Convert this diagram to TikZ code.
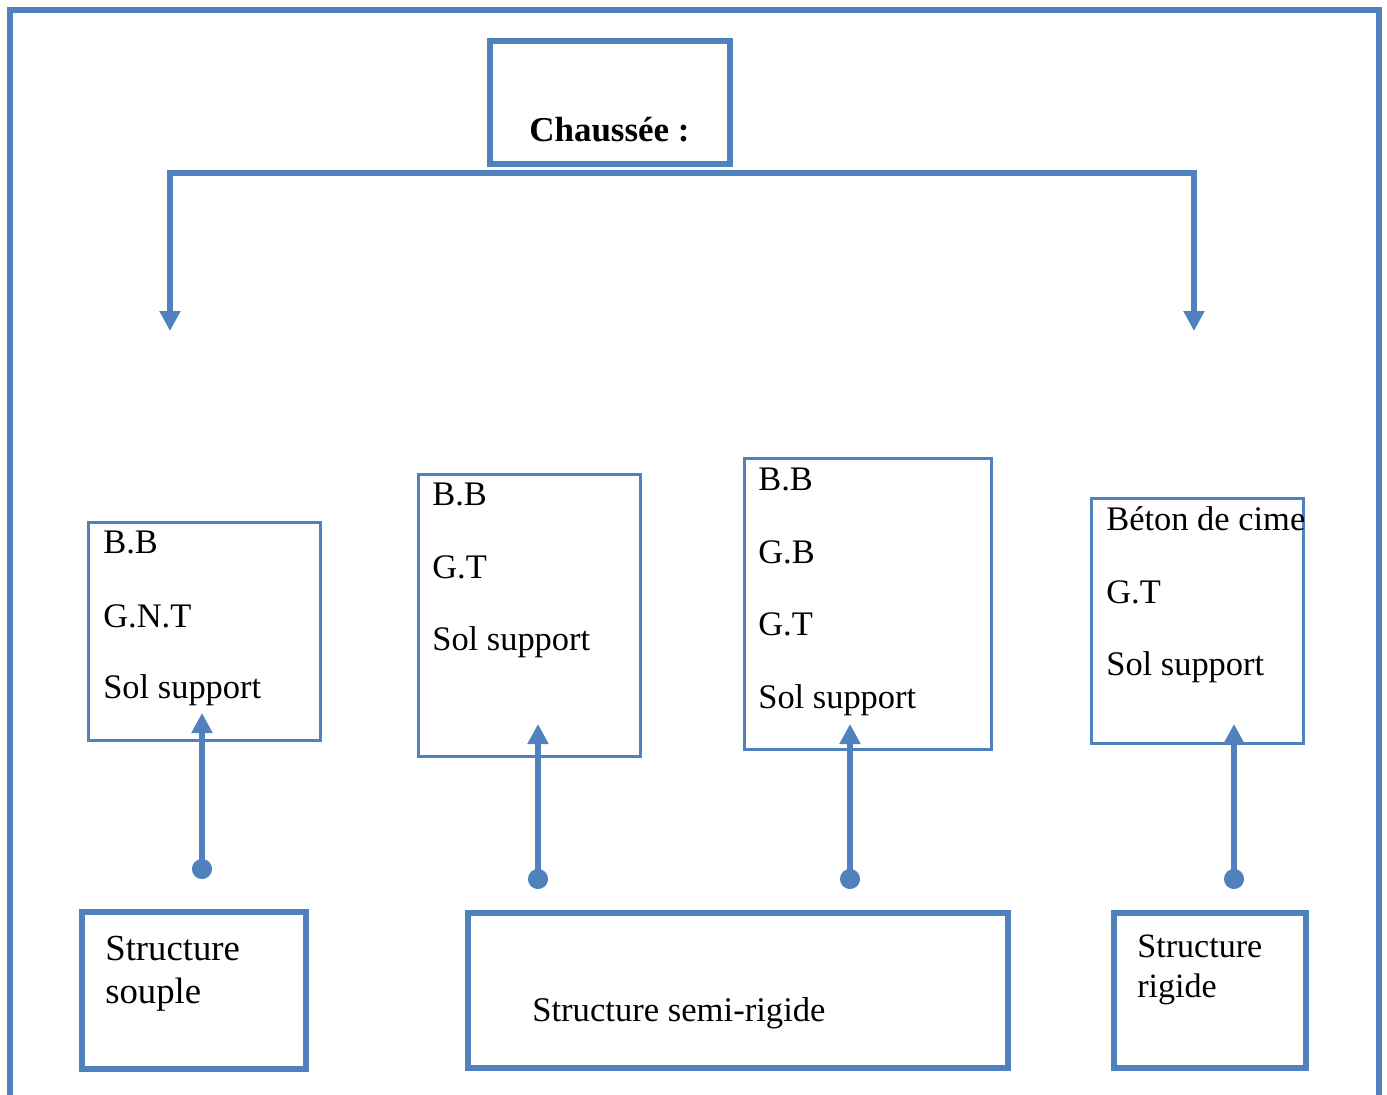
\documentclass[tikz,border=0pt]{standalone}
\usepackage{fontspec}
\setmainfont{Liberation Serif}
\usetikzlibrary{arrows.meta}

\definecolor{office}{RGB}{79,129,189}

\tikzset{
  heavy/.style={draw=office, line width=0.12cm},
  light/.style={draw=office, line width=0.06cm},
  box/.style={rectangle, inner sep=0pt},
  txt/.style={inner sep=0pt, anchor=base west, font=\fontsize{19.6pt}{23pt}\selectfont},
  down/.style={heavy, {Triangle[length=0.4cm, width=0.4cm]}-{Triangle[length=0.4cm, width=0.4cm]}},
  up/.style={heavy, {Circle[length=0.4cm]}-{Triangle[length=0.4cm, width=0.4cm]}}
}

\begin{document}
\begin{tikzpicture}[x=0.02cm, y=-0.02cm]
  \useasboundingbox (0,0) rectangle (1387,1095);
  % outer frame, open at the bottom
  \draw[heavy, line width=0.13cm] (10,1095) -- (10,10) -- (1379,10) -- (1379,1095);

  % title
  \node[box, heavy, minimum width=4.8cm, minimum height=2.46cm] (chaussee) at (610,102.5) {};
  \node[txt, font=\fontsize{19.9pt}{23pt}\selectfont\bfseries] (titre) at (529,142) {Chaussée :};

  % branches
  \coordinate (barL) at (170,173);
  \coordinate (barR) at (1194,173);
  \coordinate (tipL) at (170,331);
  \coordinate (tipR) at (1194,331);
  \draw[down] (tipL) -- (barL) -- (barR) -- (tipR);

  % layer boxes
  \node[box, light, minimum width=4.66cm, minimum height=4.38cm] (flex) at (204.5,631.5) {};
  \node[txt] (flexA) at (103,553) {B.B};
  \node[txt] (flexB) at (103,627) {G.N.T};
  \node[txt] (flexC) at (103,698) {Sol support};

  \node[box, light, minimum width=4.46cm, minimum height=5.66cm] (semiA) at (529.5,615.5) {};
  \node[txt] (semiAa) at (432,505) {B.B};
  \node[txt] (semiAb) at (432,578) {G.T};
  \node[txt] (semiAc) at (432,650) {Sol support};

  \node[box, light, minimum width=4.96cm, minimum height=5.84cm] (semiB) at (868,604) {};
  \node[txt] (semiBa) at (758,490) {B.B};
  \node[txt] (semiBb) at (758,563) {G.B};
  \node[txt] (semiBc) at (758,635) {G.T};
  \node[txt] (semiBd) at (758,708) {Sol support};

  \node[box, light, minimum width=4.26cm, minimum height=4.92cm] (rig) at (1197.5,621) {};
  \node[txt] (rigA) at (1106,530) {Béton de cime};
  \node[txt] (rigB) at (1106,603) {G.T};
  \node[txt] (rigC) at (1106,675) {Sol support};

  % structure types
  \node[box, heavy, minimum width=4.48cm, minimum height=3.14cm] (souple) at (194,990.5) {};
  \node[txt, font=\fontsize{20.9pt}{24pt}\selectfont] (soupleA) at (105,960) {Structure};
  \node[txt, font=\fontsize{20.9pt}{24pt}\selectfont] (soupleB) at (105,1003) {souple};

  \node[box, heavy, minimum width=10.8cm, minimum height=3.12cm] (semirigide) at (738,990.5) {};
  \node[txt, font=\fontsize{19.7pt}{24pt}\selectfont] (semirigideA) at (532,1021) {Structure semi-rigide};

  \node[box, heavy, minimum width=3.84cm, minimum height=3.12cm] (rigide) at (1210,990.5) {};
  \node[txt, font=\fontsize{19.4pt}{23pt}\selectfont] (rigideA) at (1137,957) {Structure};
  \node[txt, font=\fontsize{19.4pt}{23pt}\selectfont] (rigideB) at (1137,997) {rigide};

  % connectors
  \coordinate (dot1) at (202,879);  \coordinate (tip1) at (202,713);
  \coordinate (dot2) at (538,889);  \coordinate (tip2) at (538,724);
  \coordinate (dot3) at (850,889);  \coordinate (tip3) at (850,724);
  \coordinate (dot4) at (1234,889); \coordinate (tip4) at (1234,724);
  \draw[up] (dot1) -- (tip1);
  \draw[up] (dot2) -- (tip2);
  \draw[up] (dot3) -- (tip3);
  \draw[up] (dot4) -- (tip4);
\end{tikzpicture}
\end{document}
